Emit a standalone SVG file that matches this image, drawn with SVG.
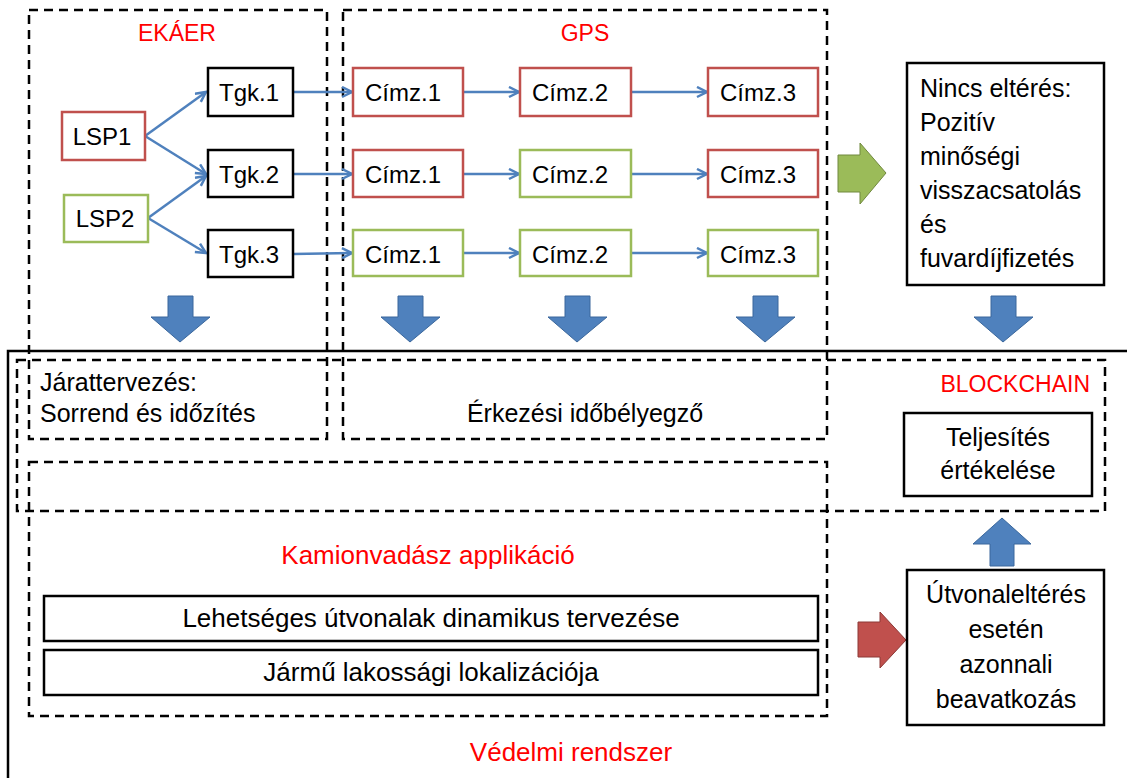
<svg xmlns="http://www.w3.org/2000/svg" width="1127" height="778" viewBox="0 0 1127 778">
<style>
text{font-family:"Liberation Sans",Arial,sans-serif;font-size:25px;fill:#000}
.n{font-size:24px}
.red{fill:#ff0000;font-size:23px}
.big{font-size:26px}
.c{text-anchor:middle}
.dash{fill:none;stroke:#000;stroke-width:2.5;stroke-dasharray:9,6}
.nb{fill:#fff;stroke:#000;stroke-width:2.5}
.nr{fill:#fff;stroke:#c0504d;stroke-width:2.5}
.ng{fill:#fff;stroke:#9bbb59;stroke-width:2.5}
.con{fill:none;stroke:#4f81bd;stroke-width:2.5;marker-end:url(#ah)}
.barrow{fill:#4f81bd;stroke:#3a679c;stroke-width:1}
</style>
<defs>
<marker id="ah" markerUnits="userSpaceOnUse" markerWidth="14" markerHeight="14" refX="11" refY="6" orient="auto">
<path d="M1,1 L11,6 L1,11" fill="none" stroke="#4f81bd" stroke-width="2.5"/>
</marker>
</defs>
<rect width="1127" height="778" fill="#fff"/>
<g id="frames">
<path d="M8,778 L8,351 L1127,351" fill="none" stroke="#000" stroke-width="2.5"/>
<rect class="dash" x="29" y="10" width="298" height="429"/>
<rect class="dash" x="343" y="10" width="484" height="429"/>
<rect class="dash" x="17" y="360" width="1088" height="151"/>
<rect class="dash" x="29" y="462" width="798" height="254"/>
</g>
<g id="labels">
<text class="red c" x="177" y="41">EKÁER</text>
<text class="red c" x="585" y="41">GPS</text>
<text x="40" y="391">Járattervezés:</text>
<text x="40" y="422">Sorrend és időzítés</text>
<text class="c" x="585" y="422">Érkezési időbélyegző</text>
<text class="red" x="1090" y="392" text-anchor="end">BLOCKCHAIN</text>
<text class="red big c" x="428" y="564">Kamionvadász applikáció</text>
<text class="red big c" x="571" y="761">Védelmi rendszer</text>
</g>
<g id="connectors">
<path class="con" d="M145,136 L206,92"/>
<path class="con" d="M145,136 L206,174"/>
<path class="con" d="M148,218 L206,176"/>
<path class="con" d="M148,218 L206,253"/>
<path class="con" d="M293,92 L352,92"/>
<path class="con" d="M293,174 L352,174"/>
<path class="con" d="M293,254 L352,253"/>
<path class="con" d="M463,92 L519,92"/>
<path class="con" d="M463,174 L519,174"/>
<path class="con" d="M463,253 L519,253"/>
<path class="con" d="M631,92 L707,92"/>
<path class="con" d="M631,174 L707,174"/>
<path class="con" d="M631,253 L707,253"/>
</g>
<g id="block-arrows">
<path class="barrow" d="M168,296 L193,296 L193,317 L210,317 L180,342 L151,317 L168,317 Z"/>
<path class="barrow" d="M398,296 L423,296 L423,317 L440,317 L410,342 L381,317 L398,317 Z"/>
<path class="barrow" d="M565,296 L590,296 L590,317 L607,317 L577,342 L548,317 L565,317 Z"/>
<path class="barrow" d="M753,296 L778,296 L778,317 L795,317 L765,342 L736,317 L753,317 Z"/>
<path class="barrow" d="M991,296 L1016,296 L1016,317 L1033,317 L1003,342 L974,317 L991,317 Z"/>
<path class="barrow" d="M990,566 L1014,566 L1014,544 L1031,544 L1002,518 L973,544 L990,544 Z"/>
<path d="M838,155 L860,155 L860,143 L886,173 L860,204 L860,192 L838,192 Z" fill="#9bbb59" stroke="#71893f" stroke-width="1"/>
<path d="M858,622 L880,622 L880,612 L906,640 L880,668 L880,657 L858,657 Z" fill="#c0504d" stroke="#8c3836" stroke-width="1"/>
</g>
<g id="lsp1"><rect class="nr" x="62" y="112" width="83" height="48"/><text class="n c" x="102" y="145">LSP1</text></g>
<g id="lsp2"><rect class="ng" x="64" y="195" width="84" height="47"/><text class="n c" x="105" y="227">LSP2</text></g>
<g id="tgk1"><rect class="nb" x="208" y="68" width="85" height="48"/><text class="n c" x="249" y="101">Tgk.1</text></g>
<g id="tgk2"><rect class="nb" x="208" y="150" width="85" height="47"/><text class="n c" x="249" y="183">Tgk.2</text></g>
<g id="tgk3"><rect class="nb" x="208" y="230" width="85" height="47"/><text class="n c" x="249" y="263">Tgk.3</text></g>
<g id="c11"><rect class="nr" x="353" y="68" width="110" height="48"/><text class="n c" x="403" y="101">Címz.1</text></g>
<g id="c21"><rect class="nr" x="353" y="150" width="110" height="47"/><text class="n c" x="403" y="183">Címz.1</text></g>
<g id="c31"><rect class="ng" x="353" y="230" width="110" height="46"/><text class="n c" x="403" y="263">Címz.1</text></g>
<g id="c12"><rect class="nr" x="520" y="68" width="111" height="48"/><text class="n c" x="570" y="101">Címz.2</text></g>
<g id="c22"><rect class="ng" x="520" y="150" width="111" height="47"/><text class="n c" x="570" y="183">Címz.2</text></g>
<g id="c32"><rect class="ng" x="520" y="230" width="111" height="46"/><text class="n c" x="570" y="263">Címz.2</text></g>
<g id="c13"><rect class="nr" x="708" y="68" width="110" height="48"/><text class="n c" x="758" y="101">Címz.3</text></g>
<g id="c23"><rect class="nr" x="708" y="150" width="110" height="47"/><text class="n c" x="758" y="183">Címz.3</text></g>
<g id="c33"><rect class="ng" x="708" y="230" width="110" height="46"/><text class="n c" x="758" y="263">Címz.3</text></g>
<g id="nincs"><rect class="nb" x="907" y="63" width="197" height="222"/>
<text x="920" y="97">Nincs eltérés:</text>
<text x="920" y="131">Pozitív</text>
<text x="920" y="165">minőségi</text>
<text x="920" y="199">visszacsatolás</text>
<text x="920" y="233">és</text>
<text x="920" y="267">fuvardíjfizetés</text>
</g>
<g id="teljesites"><rect class="nb" x="904" y="413" width="188" height="83"/>
<text class="c" x="998" y="446">Teljesítés</text>
<text class="c" x="998" y="479">értékelése</text>
</g>
<g id="lehetseges"><rect class="nb" x="44" y="596" width="774" height="45"/><text class="big c" x="431" y="627">Lehetséges útvonalak dinamikus tervezése</text></g>
<g id="jarmu"><rect class="nb" x="44" y="650" width="774" height="45"/><text class="big c" x="431" y="681">Jármű lakossági lokalizációja</text></g>
<g id="utvonal"><rect class="nb" x="907" y="570" width="197" height="155"/>
<text class="c" x="1006" y="603">Útvonaleltérés</text>
<text class="c" x="1006" y="638">esetén</text>
<text class="c" x="1006" y="673">azonnali</text>
<text class="c" x="1006" y="708">beavatkozás</text>
</g>
</svg>
